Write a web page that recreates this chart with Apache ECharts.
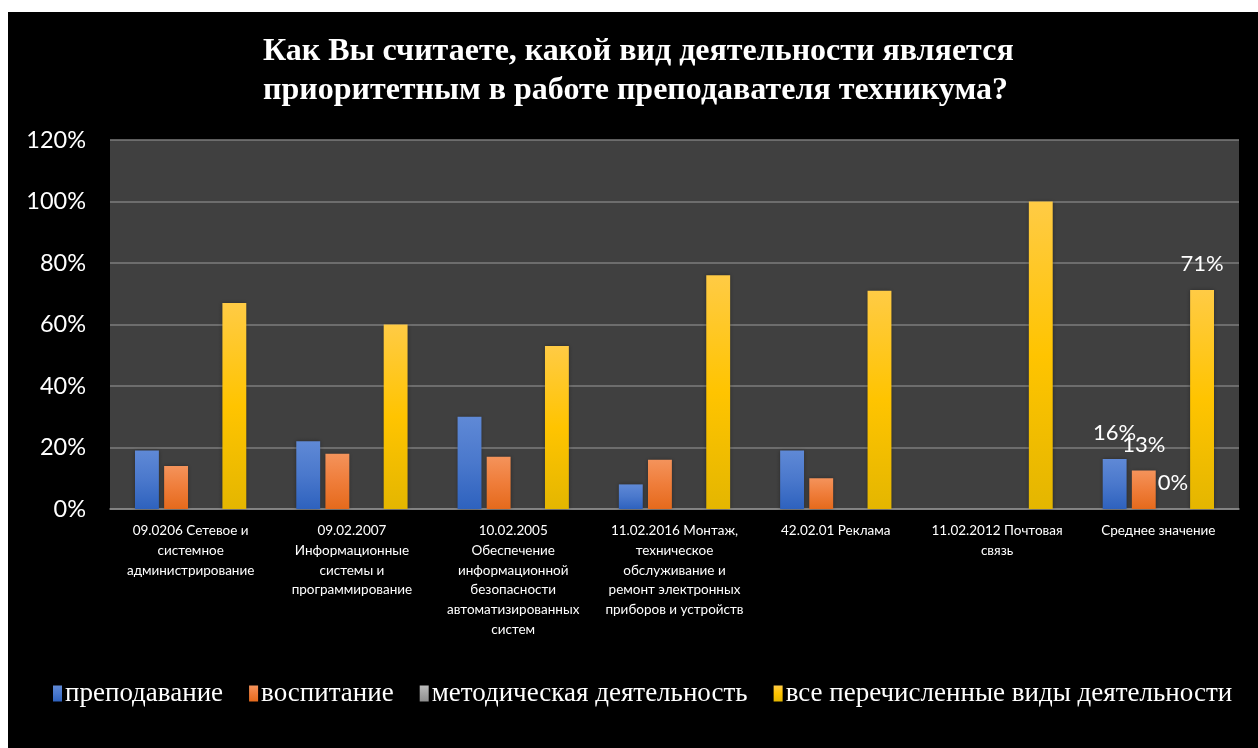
<!DOCTYPE html>
<html>
<head>
<meta charset="utf-8">
<script src="https://cdn.jsdelivr.net/npm/echarts@6/dist/echarts.min.js"></script>
<style>
html,body{margin:0;padding:0;background:#fff;width:1258px;height:748px;overflow:hidden;}
#chart{position:absolute;left:8px;top:12px;width:1250px;height:736px;}
</style>
</head>
<body>
<div id="chart"></div>
<script>
var categories = [
  "09.0206 Сетевое и\nсистемное\nадминистрирование",
  "09.02.2007\nИнформационные\nсистемы и\nпрограммирование",
  "10.02.2005\nОбеспечение\nинформационной\nбезопасности\nавтоматизированных\nсистем",
  "11.02.2016 Монтаж,\nтехническое\nобслуживание и\nремонт электронных\nприборов и устройств",
  "42.02.01 Реклама",
  "11.02.2012 Почтовая\nсвязь",
  "Среднее значение"
];
var seriesNames = ["преподавание", "воспитание", "методическая деятельность", "все перечисленные виды деятельности"];
var teaching = [0.19, 0.22, 0.30, 0.08, 0.19, 0.00, 0.163];
var upbringing = [0.14, 0.18, 0.17, 0.16, 0.10, 0.00, 0.125];
var methodical = [0, 0, 0, 0, 0, 0, 0];
var allKinds = [0.67, 0.60, 0.53, 0.76, 0.71, 1.00, 0.712];
var yTicks = [0, 0.2, 0.4, 0.6, 0.8, 1.0, 1.2];
var labelIndex = 6;

function grad(top, mid, bottom) {
  return {type:'linear', x:0, y:0, x2:0, y2:1, colorStops:[
    {offset:0, color:top},{offset:0.5, color:mid},{offset:1, color:bottom}]};
}
var colors = [
  grad('#5f89d6', '#4a78cc', '#2e62be'),
  grad('#f4935b', '#ef7d3a', '#e56a1c'),
  grad('#bcbcbc', '#a5a5a5', '#8f8f8f'),
  grad('#ffcb45', '#ffc400', '#e4b600')
];
var allData = [teaching, upbringing, methodical, allKinds];

function buildData(arr) {
  return arr.map(function(v, i) {
    var item = {value: v};
    if (i === labelIndex) {
      item.label = {show: true, position: 'top', distance: 15, color: '#fff',
        fontFamily: 'Lato', fontSize: 22,
        formatter: function(p){ return Math.round(p.value*100) + '%'; }};
    }
    return item;
  });
}

var series = seriesNames.map(function(name, k) {
  return {
    name: name, type: 'bar', data: buildData(allData[k]),
    barGap: '22%', barCategoryGap: '31%',
    itemStyle: {color: colors[k], shadowColor: 'rgba(0,0,0,0.35)', shadowBlur: 4},
    emphasis: {disabled: true}
  };
});

var chart = echarts.init(document.getElementById('chart'));
chart.setOption({
  backgroundColor: '#000',
  animation: false,
  title: {
    text: 'Как Вы считаете, какой вид деятельности является\nприоритетным в работе преподавателя техникума?',
    left: 250, top: 15, textAlign: 'left',
    textStyle: {color: '#fff', fontFamily: 'Liberation Serif', fontWeight: 'bold', fontSize: 32, lineHeight: 39, align: 'center'}
  },
  legend: {
    bottom: 36, left: 40,
    itemWidth: 9, itemHeight: 16, itemGap: 26,
    icon: 'rect',
    textStyle: {color: '#fff', fontFamily: 'Liberation Serif', fontSize: 27, padding: [0,0,0,-2]},
    data: seriesNames
  },
  grid: {
    left: 102, right: 19, top: 128, bottom: 239,
    show: true, backgroundColor: '#404040', borderWidth: 0
  },
  xAxis: {
    type: 'category', data: categories,
    axisTick: {show: false},
    axisLine: {lineStyle: {color: '#8c8c8c', width: 1.5}},
    axisLabel: {interval: 0, color: '#fff', fontFamily: 'Lato', fontSize: 13.5, lineHeight: 19.7, margin: 12}
  },
  yAxis: {
    type: 'value', min: 0, max: 1.2, interval: 0.2,
    axisLine: {show: false}, axisTick: {show: false},
    splitLine: {lineStyle: {color: '#7c7c7c', width: 1.5}},
    axisLabel: {color: '#fff', fontFamily: 'Lato', fontSize: 23.5, margin: 24,
      formatter: function(v){ return Math.round(v*100) + '%'; }}
  },
  series: series
});
</script>
</body>
</html>
